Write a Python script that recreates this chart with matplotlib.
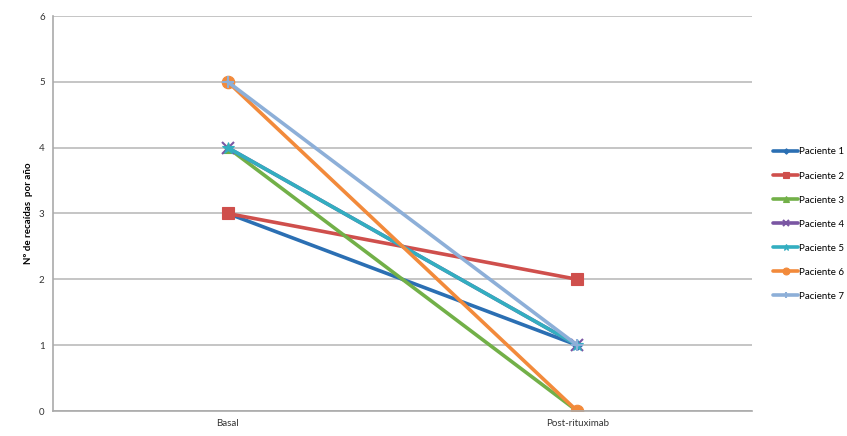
import matplotlib
matplotlib.use("Agg")
import matplotlib.pyplot as plt

plt.rcParams['font.family'] = ['Lato', 'DejaVu Sans']

categories = ["Basal", "Post-rituximab"]
series_names = ["Paciente 1", "Paciente 2", "Paciente 3", "Paciente 4",
                "Paciente 5", "Paciente 6", "Paciente 7"]
p1 = [3, 1]
p2 = [3, 2]
p3 = [4, 0]
p4 = [4, 1]
p5 = [4, 1]
p6 = [5, 0]
p7 = [5, 1]
values = [p1, p2, p3, p4, p5, p6, p7]
y_ticks = [0, 1, 2, 3, 4, 5, 6]

colors = ['#2B6FB3', '#CF4F4C', '#72B048', '#7A56A3', '#33AEC0', '#F28A3B', '#8DAFD8']
markers = ['D', 's', '^', 'x', '*', 'o', '+']
msizes = [5, 8, 7, 8, 9, 9, 8]

fig = plt.figure(figsize=(8.47, 4.36), dpi=100)
ax = fig.add_axes([53/847, 1 - 411/436, (752-53)/847, (411-16)/436])

xpos = [0.5, 1.5]
for name, vals, c, m, ms in zip(series_names, values, colors, markers, msizes):
    ax.plot(xpos, vals, color=c, lw=2.6, marker=m, markersize=ms,
            markeredgewidth=1.5 if m in ('x', '+') else 0.8,
            markeredgecolor=c, label=name, solid_capstyle='round')

ax.set_xlim(0, 2)
ax.set_ylim(0, 6)
ax.set_yticks(y_ticks)
ax.set_xticks(xpos)
ax.set_xticklabels(categories)
ax.tick_params(axis='both', length=0, labelsize=7, colors='#333333', pad=6)
ax.grid(axis='y', color='#BBBBBB', lw=1.2)
ax.set_axisbelow(True)
for s in ['top', 'right']:
    ax.spines[s].set_visible(False)
ax.spines['left'].set_color('#AAAAAA')
ax.spines['bottom'].set_color('#AAAAAA')
ax.spines['left'].set_linewidth(1.2)
ax.spines['bottom'].set_linewidth(1.2)
ax.set_ylabel("Nº de recaídas  por año", fontsize=7, fontweight='bold', labelpad=4)

leg = ax.legend(loc='upper left', bbox_to_anchor=(1.025, 0.677), frameon=False,
                fontsize=7, handlelength=2.5, handletextpad=0.1, markerscale=0.55,
                labelspacing=1.55, borderaxespad=0)

fig.savefig("out.png", dpi=100)
